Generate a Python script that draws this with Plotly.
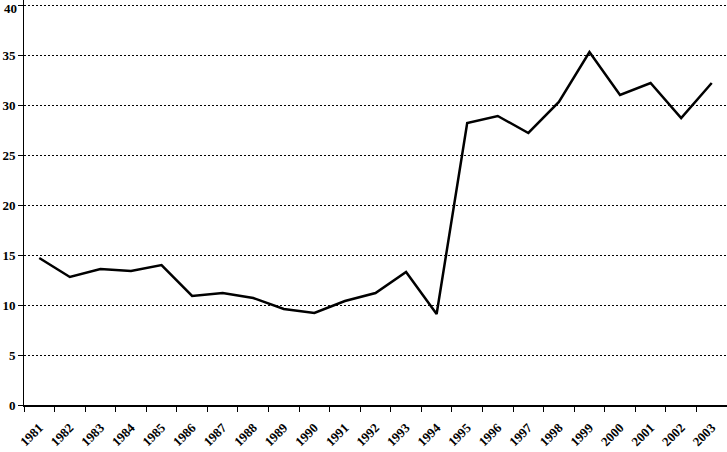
"""Annual series 1981-2003, line chart with dashed grid."""

import plotly.graph_objects as go

YEARS = [str(y) for y in range(1981, 2004)]
VALUES = [
    14.7, 12.8, 13.6, 13.4, 14.0, 10.9, 11.2, 10.7, 9.6, 9.2, 10.4, 11.2,
    13.3, 9.1, 28.2, 28.9, 27.2, 30.3, 35.3, 31.0, 32.2, 28.7, 32.2,
]
Y_TICKS = [0, 5, 10, 15, 20, 25, 30, 35, 40]

FONT = {"family": "Liberation Serif, Times New Roman, serif", "size": 13,
        "color": "black", "weight": "bold"}

# plotly drops the top tick label because it touches the page edge,
# so that one is written as an annotation instead
y_ticktext = [str(v) for v in Y_TICKS[:-1]] + [""]

fig = go.Figure(go.Scatter(
    x=YEARS,
    y=VALUES,
    mode="lines",
    line={"color": "black", "width": 2.5},
    showlegend=False,
    cliponaxis=False,
))

fig.add_annotation(
    x=0, xref="paper", xanchor="right", xshift=-6,
    y=1, yref="paper", yanchor="top", borderpad=0,
    text=str(Y_TICKS[-1]), showarrow=False, font=FONT,
)

fig.update_layout(
    width=727,
    height=452,
    margin={"l": 24, "r": 0, "t": 0, "b": 47},
    paper_bgcolor="white",
    plot_bgcolor="white",
    font=FONT,
    xaxis={
        "type": "category",
        "range": [-0.5, len(YEARS) - 0.5],
        "automargin": False,
        "tickson": "boundaries",
        "ticks": "outside",
        "ticklen": 5,
        "tickcolor": "black",
        "tickwidth": 1,
        "tickangle": -45,
        "tickfont": FONT,
        "ticklabelstandoff": 8,
        "showline": True,
        "linecolor": "black",
        "linewidth": 2,
        "showgrid": False,
        "zeroline": False,
    },
    yaxis={
        "range": [0, 40.5],
        "automargin": False,
        "tickvals": Y_TICKS,
        "ticktext": y_ticktext,
        "ticks": "outside",
        "ticklen": 5,
        "tickcolor": "black",
        "tickfont": FONT,
        "showline": True,
        "linecolor": "black",
        "linewidth": 1,
        "showgrid": True,
        "gridcolor": "black",
        "gridwidth": 1,
        "griddash": "2px,2px",
        "zeroline": False,
    },
)

# page body has a default 8px margin; drop it so the figure fills the window
fig.write_html(
    "out.html",
    config={"displayModeBar": False},
    post_script="document.body.style.margin = '0';",
)
